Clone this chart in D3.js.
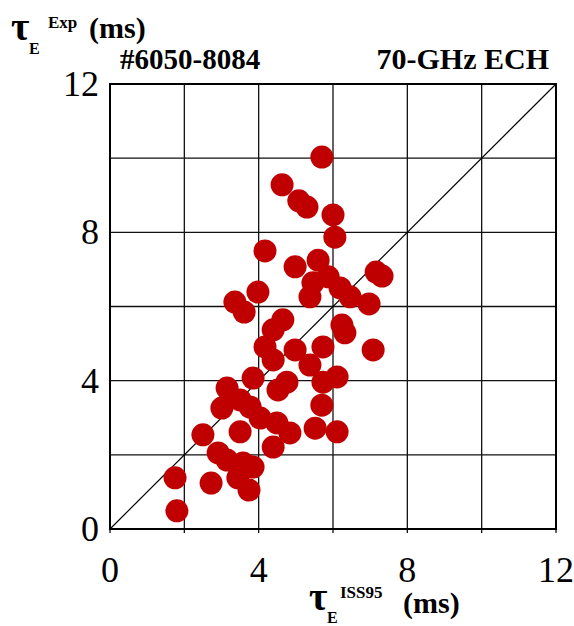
<!DOCTYPE html>
<html>
<head>
<meta charset="utf-8">
<script src="https://cdn.jsdelivr.net/npm/d3@7"></script>
<style>
  html, body { margin: 0; padding: 0; background: #fff; }
  svg { display: block; font-family: "Liberation Serif", "Times New Roman", serif; }
</style>
</head>
<body>
<svg id="chart" width="574" height="626"></svg>
<script>
// Predicted (ISS95) vs experimental confinement time, ms
const tauISS95 = [5.70, 4.63, 5.08, 5.30, 6.00, 6.05, 4.17, 4.98, 5.60, 7.16,
                  7.32, 5.46, 5.87, 6.19, 6.46, 5.38, 6.97, 3.36, 3.61, 3.98,
                  4.65, 4.39, 6.24, 6.32, 4.17, 4.98, 5.73, 7.08, 5.38, 4.39,
                  5.73, 6.11, 4.76, 4.52, 3.85, 3.15, 3.01, 3.50, 3.77, 5.70,
                  4.04, 4.49, 3.50, 2.50, 4.84, 4.39, 5.52, 6.11, 2.91, 3.15,
                  3.58, 3.85, 3.44, 3.74, 2.72, 1.75, 1.80];
const tauExp    = [10.03, 9.28, 8.85, 8.68, 8.47, 7.87, 7.50, 7.07, 7.25, 6.93,
                   6.82, 6.64, 6.80, 6.50, 6.26, 6.26, 6.07, 6.12, 5.85, 6.39,
                   5.64, 5.37, 5.50, 5.29, 4.91, 4.83, 4.91, 4.83, 4.42, 4.56,
                   3.96, 4.10, 3.96, 3.75, 4.07, 3.80, 3.26, 3.48, 3.29, 3.34,
                   2.99, 2.86, 2.62, 2.54, 2.59, 2.21, 2.72, 2.62, 2.05, 1.86,
                   1.78, 1.67, 1.38, 1.05, 1.24, 1.38, 0.49];
const gridValues = [0, 2, 4, 6, 8, 10, 12];
const tickLabels = [0, 4, 8, 12];
const axisMax = 12;

const svg = d3.select("#chart");
const plotLeft = 110, plotTop = 84, plotW = 446, plotH = 445;

const x = d3.scaleLinear().domain([0, axisMax]).range([plotLeft, plotLeft + plotW]);
const y = d3.scaleLinear().domain([0, axisMax]).range([plotTop + plotH, plotTop]);

// grid
const grid = svg.append("g").attr("stroke", "#111").attr("stroke-width", 1.3);
grid.selectAll("line.v").data(gridValues).join("line")
  .attr("x1", d => x(d)).attr("x2", d => x(d))
  .attr("y1", y(axisMax)).attr("y2", y(0) + 4);
grid.selectAll("line.h").data(gridValues).join("line")
  .attr("y1", d => y(d)).attr("y2", d => y(d))
  .attr("x1", x(0)).attr("x2", x(axisMax));

// frame
svg.append("rect")
  .attr("x", x(0)).attr("y", y(axisMax))
  .attr("width", x(axisMax) - x(0)).attr("height", y(0) - y(axisMax))
  .attr("fill", "none").attr("stroke", "#000").attr("stroke-width", 2);

// unity line
svg.append("line")
  .attr("x1", x(0)).attr("y1", y(0))
  .attr("x2", x(axisMax)).attr("y2", y(axisMax))
  .attr("stroke", "#000").attr("stroke-width", 1.2);

// data points
svg.append("g").selectAll("circle")
  .data(d3.range(tauISS95.length)).join("circle")
  .attr("cx", i => x(tauISS95[i]))
  .attr("cy", i => y(tauExp[i]))
  .attr("r", 11.5)
  .attr("fill", "#c00000");

// tick labels
svg.append("g").selectAll("text").data(tickLabels).join("text")
  .attr("x", d => x(d)).attr("y", 582)
  .attr("text-anchor", "middle")
  .attr("font-size", 36)
  .text(d => d);
svg.append("g").selectAll("text").data(tickLabels).join("text")
  .attr("x", 99).attr("y", d => y(d) + 12)
  .attr("text-anchor", "end")
  .attr("font-size", 36)
  .text(d => d);

// annotations
svg.append("text").attr("x", 120).attr("y", 69)
  .attr("font-size", 29).attr("font-weight", "bold").text("#6050-8084");
svg.append("text").attr("x", 549).attr("y", 69).attr("text-anchor", "end")
  .attr("font-size", 30).attr("font-weight", "bold").text("70-GHz ECH");

// axis titles: tau with subscript E and a superscript tag
function tauTitle(g, tx, ty, sup, subDy, supDx) {
  g.append("text").attr("x", tx).attr("y", ty)
    .attr("font-size", 40).attr("font-weight", "bold").text("τ");
  g.append("text").attr("x", tx + 18).attr("y", ty + subDy)
    .attr("font-size", 16).attr("font-weight", "bold").text("E");
  g.append("text").attr("x", tx + supDx).attr("y", ty - 12)
    .attr("font-size", 17).attr("font-weight", "bold").text(sup);
}
const yTitle = svg.append("g");
tauTitle(yTitle, 11, 40, "Exp", 14, 37);
yTitle.append("text").attr("x", 89).attr("y", 38)
  .attr("font-size", 30).attr("font-weight", "bold").text("(ms)");

const xTitle = svg.append("g");
tauTitle(xTitle, 309, 610, "ISS95", 13, 31);
xTitle.append("text").attr("x", 403).attr("y", 613)
  .attr("font-size", 30).attr("font-weight", "bold").text("(ms)");
</script>
</body>
</html>
